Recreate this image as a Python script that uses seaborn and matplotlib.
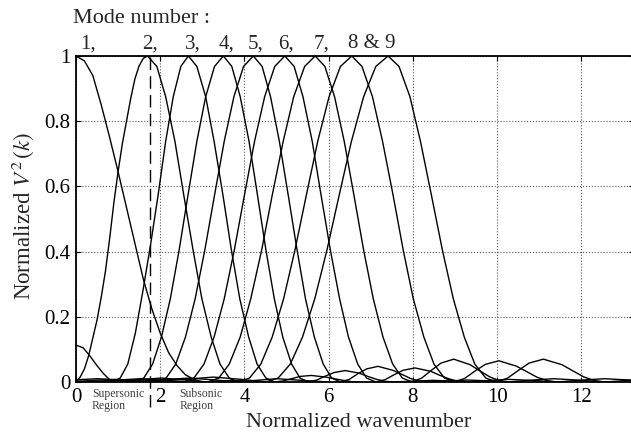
import matplotlib
matplotlib.use('Agg')
import matplotlib.pyplot as plt
import matplotlib.transforms as mtransforms
import pandas as pd
import seaborn as sns

# normalized wavenumber (k) and normalized V^2(k), mode by mode
mode1_k = [0.0, 0.2, 0.4, 0.6, 0.8, 1.0, 1.2, 1.4, 1.6, 1.8, 2.0, 2.2, 2.4, 2.6, 2.8, 3.0, 3.7, 4.4]
mode1_v = [1.0, 0.985, 0.94, 0.85, 0.75, 0.645, 0.535, 0.425, 0.315, 0.225, 0.15, 0.09, 0.05, 0.022, 0.008, 0.0, 0.005, 0.0]

mode2_k = [0.0, 0.1, 0.2, 0.3, 0.4, 0.5, 0.6, 0.7, 0.8, 0.9, 1.0, 1.1, 1.2, 1.3, 1.4, 1.5, 1.6, 1.7,
           1.92, 2.13, 2.35, 2.56, 2.78, 2.99, 3.21, 3.42, 3.64, 3.85, 4.28, 4.77, 5.36, 6.0]
mode2_v = [0.0, 0.015, 0.04, 0.08, 0.135, 0.19, 0.26, 0.34, 0.44, 0.55, 0.645, 0.73, 0.80, 0.87, 0.93, 0.97, 0.993, 1.0,
           0.968, 0.875, 0.738, 0.573, 0.405, 0.255, 0.138, 0.055, 0.012, 0.0, 0.005, 0.01, 0.005, 0.0]

mode3_k = [0.0, 0.17, 0.33, 0.5, 0.65, 0.8, 0.87,
           1.05, 1.23, 1.41, 1.59, 1.77, 1.95, 2.13, 2.31, 2.49, 2.67,
           2.87, 3.08, 3.28, 3.49, 3.69, 3.89, 4.10, 4.30, 4.51, 4.71,
           4.91, 5.12, 5.32, 5.59, 5.93, 6.14, 6.34, 6.55, 6.75]
mode3_v = [0.113, 0.105, 0.08, 0.05, 0.026, 0.007, 0.0,
           0.012, 0.055, 0.15, 0.28, 0.42, 0.573, 0.738, 0.875, 0.968, 1.0,
           0.968, 0.875, 0.738, 0.573, 0.405, 0.255, 0.138, 0.055, 0.012, 0.0,
           0.003, 0.01, 0.017, 0.02, 0.015, 0.01, 0.005, 0.001, 0.0]

mode4_k = [0.0, 0.14, 0.5, 0.77, 0.98, 1.19, 1.40,
           1.61, 1.82, 2.03, 2.24, 2.45, 2.66, 2.87, 3.08, 3.29, 3.50,
           3.70, 3.90, 4.11, 4.31, 4.51, 4.71, 4.91, 5.12, 5.32, 5.52,
           5.72, 5.92, 6.13, 6.39, 6.73, 6.93, 7.14, 7.34, 7.54, 8.47, 9.56]
mode4_v = [0.006, 0.0076, 0.01, 0.0083, 0.0052, 0.0017, 0.0,
           0.012, 0.055, 0.138, 0.255, 0.405, 0.573, 0.738, 0.875, 0.968, 1.0,
           0.968, 0.875, 0.738, 0.573, 0.405, 0.255, 0.138, 0.055, 0.012, 0.0,
           0.006, 0.018, 0.029, 0.035, 0.027, 0.017, 0.008, 0.002, 0.0, 0.005, 0.0]

mode5_k = [0.0, 0.3, 0.53, 0.92, 1.22, 1.45, 1.68, 1.91,
           2.14, 2.37, 2.60, 2.83, 3.06, 3.29, 3.52, 3.75, 3.98, 4.21,
           4.42, 4.62, 4.83, 5.04, 5.25, 5.45, 5.66, 5.87, 6.07, 6.28,
           6.49, 6.69, 6.90, 7.17, 7.52, 7.73, 7.94, 8.14, 8.35, 9.30, 10.42]
mode5_v = [0.002, 0.004, 0.006, 0.008, 0.0066, 0.0042, 0.0014, 0.0,
           0.012, 0.055, 0.138, 0.255, 0.405, 0.573, 0.738, 0.875, 0.968, 1.0,
           0.968, 0.875, 0.738, 0.573, 0.405, 0.255, 0.138, 0.055, 0.012, 0.0,
           0.008, 0.025, 0.04, 0.048, 0.036, 0.024, 0.011, 0.003, 0.0, 0.006, 0.0]

mode6_k = [0.16, 0.88, 1.53, 2.08, 2.56,
           2.80, 3.04, 3.28, 3.52, 3.76, 4.00, 4.24, 4.48, 4.72, 4.96,
           5.18, 5.39, 5.61, 5.82, 6.04, 6.26, 6.47, 6.69, 6.90, 7.12,
           7.34, 7.55, 7.77, 8.05, 8.42, 8.63, 8.85, 9.06, 9.28, 9.93, 10.27, 10.79, 11.44]
mode6_v = [0.0, 0.005, 0.01, 0.005, 0.0,
           0.012, 0.055, 0.138, 0.255, 0.405, 0.573, 0.738, 0.875, 0.968, 1.0,
           0.968, 0.875, 0.738, 0.573, 0.405, 0.255, 0.138, 0.055, 0.012, 0.0,
           0.007, 0.022, 0.036, 0.043, 0.033, 0.021, 0.01, 0.0025, 0.0, 0.0056, 0.008, 0.005, 0.0]

mode7_k = [0.58, 1.34, 2.03, 2.62, 3.13,
           3.39, 3.64, 3.90, 4.15, 4.41, 4.66, 4.92, 5.17, 5.43, 5.68,
           5.91, 6.14, 6.37, 6.60, 6.83, 7.06, 7.29, 7.52, 7.75, 7.98,
           8.21, 8.44, 8.67, 8.97, 9.36, 9.59, 9.82, 10.05, 10.28, 10.97, 11.34, 11.89, 12.58]
mode7_v = [0.0, 0.006, 0.012, 0.006, 0.0,
           0.012, 0.055, 0.138, 0.255, 0.405, 0.573, 0.738, 0.875, 0.968, 1.0,
           0.968, 0.875, 0.738, 0.573, 0.405, 0.255, 0.138, 0.055, 0.012, 0.0,
           0.012, 0.036, 0.058, 0.07, 0.053, 0.034, 0.016, 0.004, 0.0, 0.007, 0.01, 0.006, 0.0]

mode8_k = [1.15, 1.96, 2.69, 3.31, 3.85,
           4.12, 4.39, 4.66, 4.93, 5.20, 5.47, 5.74, 6.01, 6.28, 6.55,
           6.79, 7.04, 7.28, 7.53, 7.77, 8.01, 8.26, 8.50, 8.75, 8.99,
           9.23, 9.48, 9.72, 10.04, 10.45, 10.70, 10.94, 11.19, 11.43, 12.16, 12.55, 13.14, 13.87]
mode8_v = [0.0, 0.006, 0.012, 0.006, 0.0,
           0.012, 0.055, 0.138, 0.255, 0.405, 0.573, 0.738, 0.875, 0.968, 1.0,
           0.968, 0.875, 0.738, 0.573, 0.405, 0.255, 0.138, 0.055, 0.012, 0.0,
           0.011, 0.034, 0.054, 0.065, 0.049, 0.032, 0.015, 0.004, 0.0, 0.007, 0.01, 0.006, 0.0]

mode9_k = [1.61, 2.48, 3.26, 3.93, 4.51,
           4.80, 5.09, 5.38, 5.67, 5.96, 6.25, 6.54, 6.83, 7.12, 7.41,
           7.67, 7.93, 8.18, 8.44, 8.70, 8.96, 9.22, 9.47, 9.73, 9.99,
           10.25, 10.51, 10.76, 11.10, 11.54, 11.80, 12.05, 12.31, 12.57, 13.34, 13.76]
mode9_v = [0.0, 0.007, 0.015, 0.008, 0.0,
           0.012, 0.055, 0.138, 0.255, 0.405, 0.573, 0.738, 0.875, 0.968, 1.0,
           0.968, 0.875, 0.738, 0.573, 0.405, 0.255, 0.138, 0.055, 0.012, 0.0,
           0.012, 0.036, 0.058, 0.07, 0.053, 0.034, 0.016, 0.004, 0.0, 0.007, 0.01]

mode_labels = ['1,', '2,', '3,', '4,', '5,', '6,', '7,', '8 & 9']
mode_label_k = [0.095, 1.56, 2.59, 3.38, 4.07, 4.81, 5.64, 6.45]

x_ticks = [0, 2, 4, 6, 8, 10, 12]
y_ticks = [0, 0.2, 0.4, 0.6, 0.8, 1.0]
y_tick_labels = ['0', '0.2', '0.4', '0.6', '0.8', '1']
sonic_k = 1.76

sns.set_style('white')
plt.rcParams['font.family'] = ['Liberation Serif', 'DejaVu Serif']
plt.rcParams['mathtext.fontset'] = 'stix'

all_k = [mode1_k, mode2_k, mode3_k, mode4_k, mode5_k, mode6_k, mode7_k, mode8_k, mode9_k]
all_v = [mode1_v, mode2_v, mode3_v, mode4_v, mode5_v, mode6_v, mode7_v, mode8_v, mode9_v]
frames = []
for n, (k, v) in enumerate(zip(all_k, all_v), start=1):
    frames.append(pd.DataFrame({'k': k, 'v2': v, 'mode': f'mode {n}'}))
df = pd.concat(frames, ignore_index=True)

fig = plt.figure(figsize=(6.31, 4.38), dpi=100)
ax = fig.add_axes([0.1204, 0.1279, 0.885, 0.7443])

sns.lineplot(data=df, x='k', y='v2', hue='mode', palette=['black'] * 9,
             estimator=None, legend=False, linewidth=1.0, ax=ax)

ax.axvline(sonic_k, ymin=-0.078, ymax=1.0, color='black', lw=1.0,
           dashes=(9, 4.5), clip_on=False)

ax.set_xlim(0, 13.26)
ax.set_ylim(0, 1)
ax.set_xticks(x_ticks)
ax.set_yticks(y_ticks)
ax.set_yticklabels(y_tick_labels)
ax.grid(True, linestyle=':', color='0.35', linewidth=0.8)
ax.tick_params(direction='in', bottom=True, top=True, left=True, right=True,
               length=3.5, width=0.8, labelsize=15, pad=4, colors='black')
for side in ['left', 'bottom', 'top', 'right']:
    ax.spines[side].set_color('black')
    ax.spines[side].set_linewidth(1.3)

ax.set_xlabel('Normalized wavenumber', fontsize=16)
ax.xaxis.set_label_coords(0.506, -0.095)
ax.set_ylabel(r'Normalized $V^2\,(k)$', fontsize=16.5)
ax.yaxis.set_label_coords(-0.072, 0.509)

trans = mtransforms.blended_transform_factory(ax.transData, ax.transAxes)
for lab, kx in zip(mode_labels, mode_label_k):
    ax.text(kx, 1.024, lab, transform=trans, fontsize=15, ha='left', va='baseline')
ax.text(-0.005, 1.10, 'Mode number :', transform=ax.transAxes, fontsize=16,
        ha='left', va='baseline')

ax.text(0.38, -0.02, 'Supersonic\nRegion', fontsize=8.5, color='0.25', ha='left',
        va='top', linespacing=0.95, clip_on=False)
ax.text(2.45, -0.02, 'Subsonic\nRegion', fontsize=8.5, color='0.25', ha='left',
        va='top', linespacing=0.95, clip_on=False)

fig.savefig('out.png', dpi=100)
